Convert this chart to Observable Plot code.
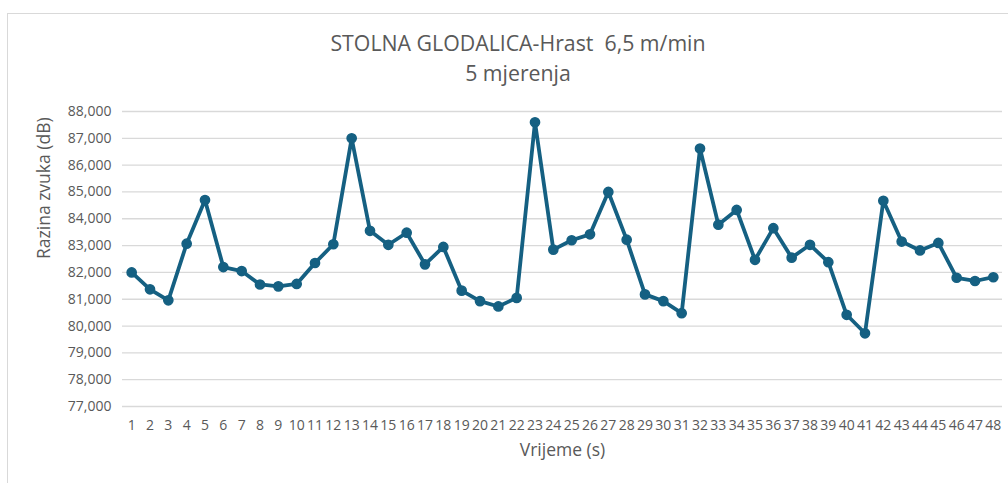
<!DOCTYPE html>
<html>
<head>
<meta charset="utf-8">
<script src="https://cdn.jsdelivr.net/npm/d3@7"></script>
<script src="https://cdn.jsdelivr.net/npm/@observablehq/plot@0.6"></script>
<style>
  html, body { margin: 0; padding: 0; background: #fff; }
  #wrap { position: relative; width: 1008px; height: 483px; overflow: hidden; font-family: "Open Sans", Roboto, sans-serif; }
  #frame { position: absolute; left: 7px; top: 13px; width: 1100px; height: 600px; border: 1.5px solid #d9d9d9; box-sizing: border-box; }
  #title { position: absolute; left: 0; width: 1036px; top: 28px; text-align: center; color: #595959; font-size: 21.3px; line-height: 30px; }
  #chart { position: absolute; left: 0; top: 90px; }
</style>
</head>
<body>
<div id="wrap">
  <div id="frame"></div>
  <div id="title">STOLNA GLODALICA-Hrast&nbsp; 6,5 m/min<br>5 mjerenja</div>
  <div id="chart"></div>
</div>
<script>
const seconds = Array.from({length: 48}, (_, i) => i + 1);
const levels = [
  82.00, 81.37, 80.96, 83.07, 84.70, 82.20, 82.05, 81.55, 81.48, 81.57,
  82.35, 83.05, 87.00, 83.55, 83.03, 83.48, 82.30, 82.95, 81.32, 80.93,
  80.73, 81.05, 87.60, 82.85, 83.20, 83.42, 85.00, 83.22, 81.18, 80.93,
  80.48, 86.62, 83.78, 84.33, 82.47, 83.65, 82.55, 83.03, 82.38, 80.42,
  79.73, 84.67, 83.15, 82.82, 83.10, 81.80, 81.68, 81.82
];
const yTicks = [77, 78, 79, 80, 81, 82, 83, 84, 85, 86, 87, 88];
const data = seconds.map((s, i) => ({s, v: levels[i]}));
const color = "#156082";
const fmtY = v => (v * 1000).toLocaleString("en-US");

const chart = Plot.plot({
  width: 1008,
  height: 380,
  marginLeft: 122,
  marginRight: 6,
  marginTop: 21,
  marginBottom: 64,
  style: {fontFamily: "'Open Sans', Roboto, sans-serif", fontSize: "14px", color: "#595959", background: "transparent"},
  x: {type: "linear", domain: [0.5, 48.5]},
  y: {domain: [77, 88]},
  marks: [
    Plot.gridY(yTicks, {stroke: "#d9d9d9", strokeOpacity: 1, strokeWidth: 1.3}),
    Plot.axisY(yTicks, {tickSize: 0, tickPadding: 11, tickFormat: fmtY, fontSize: 14, fill: "#595959", label: null}),
    Plot.axisX(seconds, {tickSize: 0, tickPadding: 14, tickFormat: d => String(d), fontSize: 14, fill: "#595959", label: null}),
    Plot.text(["Razina zvuka (dB)"], {frameAnchor: "left", dx: -78, rotate: -90, fontSize: 17.5, fill: "#595959"}),
    Plot.text(["Vrijeme (s)"], {frameAnchor: "bottom", dy: 49, fontSize: 17.5, fill: "#595959"}),
    Plot.line(data, {x: "s", y: "v", stroke: color, strokeWidth: 3.8, strokeLinejoin: "round"}),
    Plot.dot(data, {x: "s", y: "v", r: 4.6, fill: color, stroke: color})
  ]
});
document.getElementById("chart").appendChild(chart);
</script>
</body>
</html>
